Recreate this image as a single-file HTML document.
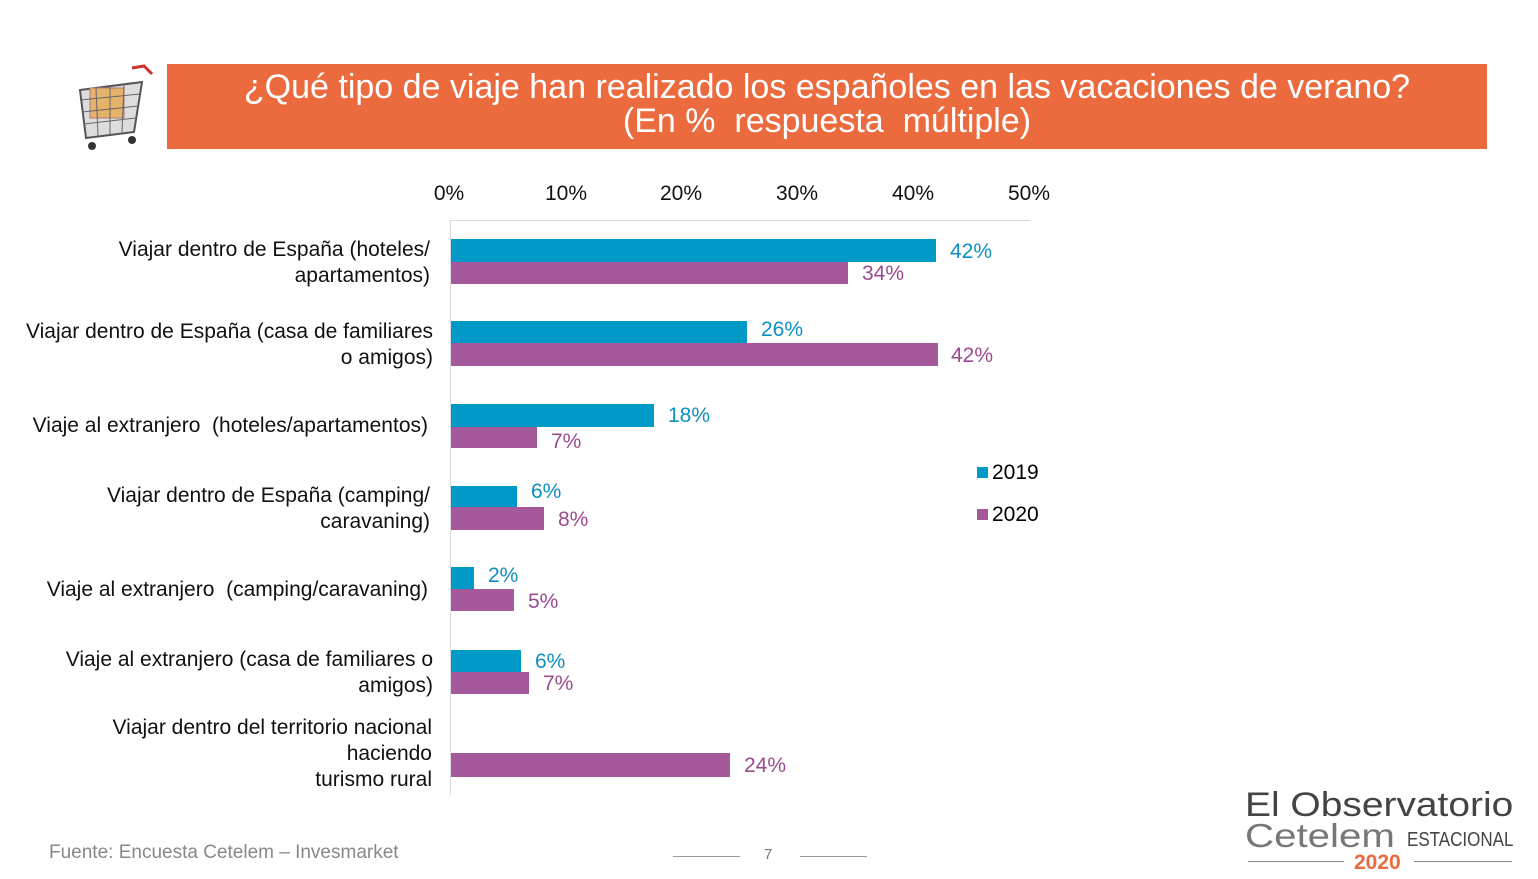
<!DOCTYPE html>
<html><head><meta charset="utf-8"><style>
body{margin:0;width:1538px;height:879px;background:#fff;position:relative;overflow:hidden;font-family:"Liberation Sans",sans-serif}
.a{position:absolute}
.cat{position:absolute;right:1108px;text-align:right;font-size:21px;color:#111;line-height:26px;white-space:nowrap}
.b{position:absolute;background:#0099c8}
.p{position:absolute;background:#a5589a}
.vb{position:absolute;color:#0f8fc0;font-size:21px}
.vp{position:absolute;color:#9a4a8e;font-size:21px}
.t{position:absolute;top:182px;font-size:21px;color:#111;width:60px;text-align:center}
</style></head><body>
<div class="a" style="left:167px;top:64px;width:1320px;height:85px;background:#eb6a3e;color:#fff;text-align:center;font-size:34px;line-height:34px;padding-top:6px;box-sizing:border-box;white-space:nowrap">¿Qué tipo de viaje han realizado los españoles en las vacaciones de verano?<br>(En %&nbsp; respuesta&nbsp; múltiple)</div>
<svg class="a" style="left:72px;top:60px" width="90" height="95" viewBox="0 0 90 95">
<path d="M60 8 L72 6 L80 14" stroke="#c33" stroke-width="3" fill="none"/>
<polygon points="8,30 70,22 62,72 14,78" fill="#ddd" stroke="#555" stroke-width="2"/>
<rect x="18" y="28" width="34" height="30" fill="#e6b36a" stroke="#a77" />
<path d="M8 40 L68 34 M10 52 L66 46 M12 64 L64 58 M24 28 L26 76 M38 26 L38 74 M52 24 L50 72" stroke="#666" stroke-width="1"/>
<circle cx="20" cy="86" r="4" fill="#333"/><circle cx="60" cy="80" r="4" fill="#333"/>
</svg>
<div class="t" style="left:419px">0%</div><div class="t" style="left:536px">10%</div><div class="t" style="left:651px">20%</div><div class="t" style="left:767px">30%</div><div class="t" style="left:883px">40%</div><div class="t" style="left:999px">50%</div>
<div class="a" style="left:450px;top:220px;width:580px;height:1px;background:#d9d9d9"></div>
<div class="a" style="left:450px;top:220px;width:1px;height:575px;background:#d9d9d9"></div>
<div class="cat" style="top:237px">Viajar dentro de España (hoteles/<br>apartamentos)</div>
<div class="cat" style="top:319px;right:1105px">Viajar dentro de España (casa de familiares<br>o amigos)</div>
<div class="cat" style="top:413px;right:1110px">Viaje al extranjero&nbsp; (hoteles/apartamentos)</div>
<div class="cat" style="top:483px">Viajar dentro de España (camping/<br>caravaning)</div>
<div class="cat" style="top:577px;right:1110px">Viaje al extranjero&nbsp; (camping/caravaning)</div>
<div class="cat" style="top:647px;right:1105px">Viaje al extranjero (casa de familiares o<br>amigos)</div>
<div class="cat" style="top:715px;right:1106px">Viajar dentro del territorio nacional<br>haciendo<br>turismo rural</div>
<div class="b" style="left:451px;top:239px;width:485px;height:23px"></div><div class="p" style="left:451px;top:262px;width:397px;height:22px"></div>
<div class="vb" style="left:950px;top:240px">42%</div><div class="vp" style="left:862px;top:262px">34%</div>
<div class="b" style="left:451px;top:321px;width:296px;height:22px"></div><div class="p" style="left:451px;top:343px;width:487px;height:23px"></div>
<div class="vb" style="left:761px;top:318px">26%</div><div class="vp" style="left:951px;top:344px">42%</div>
<div class="b" style="left:451px;top:404px;width:203px;height:23px"></div><div class="p" style="left:451px;top:427px;width:86px;height:21px"></div>
<div class="vb" style="left:668px;top:404px">18%</div><div class="vp" style="left:551px;top:430px">7%</div>
<div class="b" style="left:451px;top:486px;width:66px;height:21px"></div><div class="p" style="left:451px;top:507px;width:93px;height:23px"></div>
<div class="vb" style="left:531px;top:480px">6%</div><div class="vp" style="left:558px;top:508px">8%</div>
<div class="b" style="left:451px;top:567px;width:23px;height:22px"></div><div class="p" style="left:451px;top:589px;width:63px;height:22px"></div>
<div class="vb" style="left:488px;top:564px">2%</div><div class="vp" style="left:528px;top:590px">5%</div>
<div class="b" style="left:451px;top:650px;width:70px;height:22px"></div><div class="p" style="left:451px;top:672px;width:78px;height:22px"></div>
<div class="vb" style="left:535px;top:650px">6%</div><div class="vp" style="left:543px;top:672px">7%</div>
<div class="p" style="left:451px;top:753px;width:279px;height:24px"></div>
<div class="vp" style="left:744px;top:754px">24%</div>
<div class="a" style="left:977px;top:467px;width:11px;height:11px;background:#0099c8"></div><div class="a" style="left:992px;top:461px;font-size:21px">2019</div>
<div class="a" style="left:977px;top:509px;width:11px;height:11px;background:#a5589a"></div><div class="a" style="left:992px;top:503px;font-size:21px">2020</div>
<div class="a" style="left:49px;top:842px;font-size:19px;color:#888">Fuente: Encuesta Cetelem – Invesmarket</div>
<div class="a" style="left:673px;top:856px;width:67px;height:1px;background:#999"></div>
<div class="a" style="left:800px;top:856px;width:67px;height:1px;background:#999"></div>
<div class="a" style="left:764px;top:846px;font-size:15px;color:#777">7</div>
<div class="a" style="left:1245px;top:786px;font-size:34px;color:#444;transform:scaleX(1.145);transform-origin:left;white-space:nowrap">El Observatorio</div>
<div class="a" style="left:1245px;top:817px;font-size:33px;color:#777;transform:scaleX(1.22);transform-origin:left">Cetelem</div>
<div class="a" style="left:1407px;top:829px;font-size:20px;color:#444;transform:scaleX(0.85);transform-origin:left">ESTACIONAL</div>
<div class="a" style="left:1248px;top:861px;width:96px;height:1px;background:#888"></div>
<div class="a" style="left:1414px;top:861px;width:98px;height:1px;background:#888"></div>
<div class="a" style="left:1354px;top:851px;font-size:21px;color:#eb6a3e;font-weight:bold">2020</div>
</body></html>
